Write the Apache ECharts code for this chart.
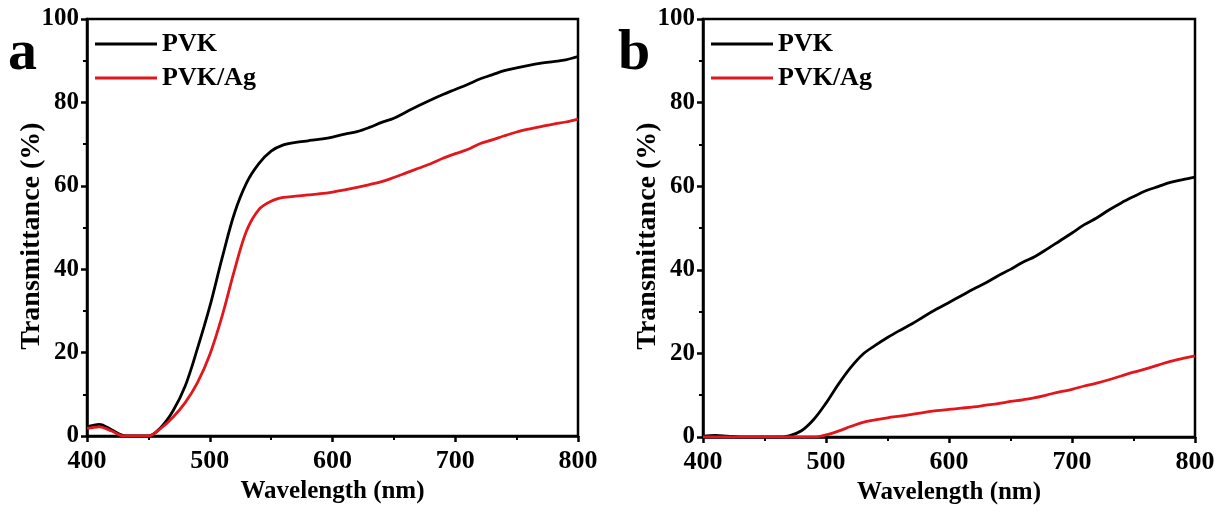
<!DOCTYPE html>
<html>
<head>
<meta charset="utf-8">
<script src="https://cdn.jsdelivr.net/npm/echarts@6/dist/echarts.min.js"></script>
<style>html,body{margin:0;padding:0;background:#fff;}#c{width:1225px;height:518px;}</style>
</head>
<body>
<div id="c"></div>
<script>
// wavelengths (nm), 10 nm steps
const wavelength = [400,410,420,430,440,450,460,470,480,490,500,510,520,530,540,550,560,570,580,590,600,610,620,630,640,650,660,670,680,690,700,710,720,730,740,750,760,770,780,790,800];
// panel a
const aPVK = [2.2,2.8,1.5,0.1,0,0,2,6,12,21,31,42.6,53.3,60.7,65.3,68.3,69.8,70.4,70.8,71.2,71.7,72.4,73.0,74.0,75.2,76.2,77.7,79.2,80.6,81.9,83.1,84.3,85.6,86.6,87.6,88.3,88.9,89.4,89.8,90.2,91.0];
const aPVKAg = [1.8,2.2,1.2,0,0,0,1.8,4.5,8,12.8,19.5,28.7,39.6,49.2,54.3,56.3,57.2,57.5,57.8,58.1,58.5,59.0,59.6,60.3,61.0,62.0,63.1,64.2,65.3,66.6,67.7,68.7,70.1,71.0,72.0,72.9,73.6,74.2,74.8,75.3,76.0];
// panel b
const bPVK = [0.2,0.4,0.2,0,0,0,0,0.3,1.5,4.2,8.1,12.6,16.6,19.8,21.9,23.8,25.5,27.1,28.9,30.6,32.2,33.8,35.4,36.9,38.6,40.1,41.8,43.2,45,46.9,48.8,50.8,52.4,54.3,56,57.5,58.9,59.9,60.9,61.6,62.2];
const bPVKAg = [0,0,0,0,0,0,0,0,0,0,0.5,1.4,2.5,3.5,4.1,4.6,5.0,5.4,5.9,6.3,6.6,6.9,7.2,7.6,8.0,8.5,8.9,9.4,10.1,10.8,11.4,12.2,12.9,13.7,14.6,15.5,16.3,17.2,18.1,18.8,19.4];
const seriesNames = ['PVK','PVK/Ag'];
const panelLetters = ['a','b'];
const xTitle = 'Wavelength (nm)';
const yTitle = 'Transmittance (%)';
const xTicks = [400,500,600,700,800];
const yTicks = [0,20,40,60,80,100];

const FONT = 'Liberation Serif';
const BLACK = '#000000';
const RED = '#e3161c';
const pair = (ys) => wavelength.map((w,i)=>[w, ys[i]]);

function xAxis(gi){
  return {
    type:'value', gridIndex:gi, min:xTicks[0], max:xTicks[xTicks.length-1], interval:100,
    name:xTitle, nameLocation:'middle', nameGap:43,
    nameTextStyle:{fontFamily:FONT, fontWeight:'bold', fontSize:25, color:'#000'},
    axisLine:{show:true, onZero:false, lineStyle:{color:'#000', width:2.5}},
    axisTick:{show:true, inside:false, length:6, lineStyle:{color:'#000', width:2.5}},
    minorTick:{show:true, splitNumber:2, length:4, lineStyle:{color:'#000', width:2}},
    axisLabel:{fontFamily:FONT, fontWeight:'bold', fontSize:26, color:'#000', margin:12},
    splitLine:{show:false}
  };
}
function yAxis(gi){
  return {
    type:'value', gridIndex:gi, min:yTicks[0], max:yTicks[yTicks.length-1], interval:20,
    axisLine:{show:true, lineStyle:{color:'#000', width:2.5}},
    axisTick:{show:true, inside:false, length:6, lineStyle:{color:'#000', width:2.5}},
    minorTick:{show:true, splitNumber:2, length:4, lineStyle:{color:'#000', width:2}},
    axisLabel:{fontFamily:FONT, fontWeight:'bold', fontSize:25, color:'#000', margin:8},
    splitLine:{show:false}
  };
}
function line(name, gi, ys, color){
  return {
    type:'line', name:name, xAxisIndex:gi, yAxisIndex:gi, data:pair(ys),
    showSymbol:false, symbol:'none', smooth:0.35, color:color,
    lineStyle:{color:color, width:2.8}
  };
}
function legend(left){
  return {
    left:left, top:31, padding:0, orient:'vertical', icon:'rect', itemWidth:62, itemHeight:3, itemGap:8,
    data:seriesNames,
    textStyle:{fontFamily:FONT, fontWeight:'bold', fontSize:26, color:'#000', lineHeight:26}
  };
}
function yTitleText(cx, cy){
  return {
    type:'text', x:cx, y:cy, rotation:Math.PI/2,
    style:{text:yTitle, font:'bold 28px "Liberation Serif"', fill:'#000', align:'center', verticalAlign:'middle'}
  };
}

const chart = echarts.init(document.getElementById('c'), null, {renderer:'canvas'});
const gridBase = {show:true, borderColor:'#000', borderWidth:2.5, backgroundColor:'transparent', containLabel:false};
chart.setOption({
  backgroundColor:'#fff',
  animation:false,
  title:[
    {text:panelLetters[0], left:8, top:25, padding:0, textStyle:{fontFamily:FONT, fontWeight:'bold', fontSize:58, color:'#000'}},
    {text:panelLetters[1], left:618, top:25, padding:0, textStyle:{fontFamily:FONT, fontWeight:'bold', fontSize:58, color:'#000'}}
  ],
  grid:[
    Object.assign({left:87, top:19, width:491, height:417}, gridBase),
    Object.assign({left:703, top:19, width:492, height:418}, gridBase)
  ],
  legend:[legend(95), legend(711)],
  xAxis:[xAxis(0), xAxis(1)],
  yAxis:[yAxis(0), yAxis(1)],
  graphic:[yTitleText(32, 236), yTitleText(648, 236)],
  series:[
    line(seriesNames[0],0,aPVK,BLACK),
    line(seriesNames[1],0,aPVKAg,RED),
    line(seriesNames[0],1,bPVK,BLACK),
    line(seriesNames[1],1,bPVKAg,RED)
  ]
});
</script>
</body>
</html>
